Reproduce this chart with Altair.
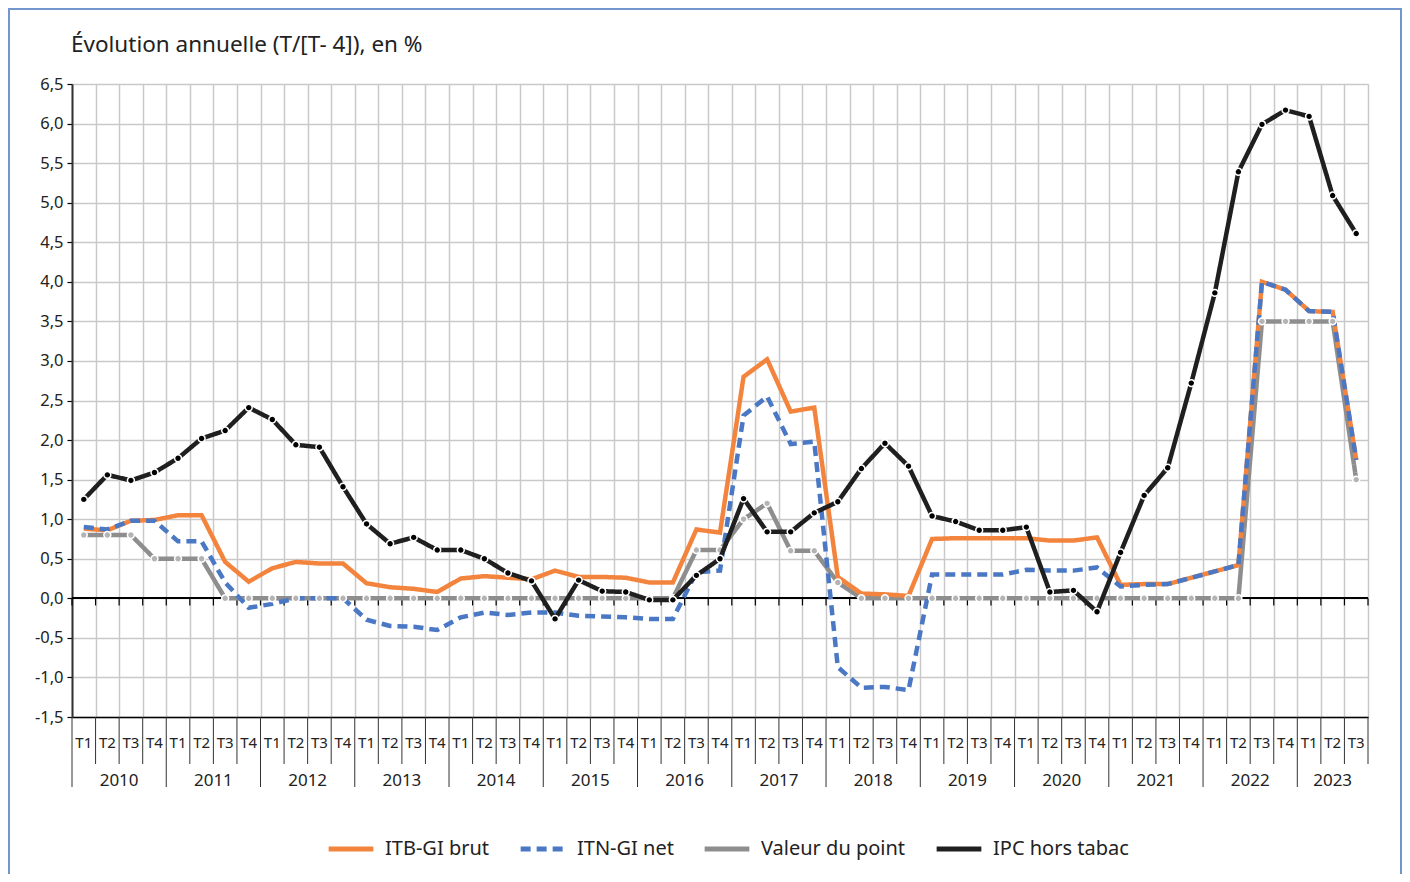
import altair as alt
import pandas as pd

# ---- data ----
quarters = ["T1", "T2", "T3", "T4"] * 13 + ["T1", "T2", "T3"]
years = [str(y) for y in range(2010, 2024)]
series = ["ITB-GI brut", "ITN-GI net", "Valeur du point", "IPC hors tabac"]
title_text = ["Évolution annuelle (T/[T- 4]), en %"]

itb_brut = [0.88, 0.86, 0.98, 0.99, 1.05, 1.05, 0.46, 0.21, 0.38, 0.46, 0.44, 0.44,
            0.19, 0.14, 0.12, 0.08, 0.25, 0.28, 0.26, 0.24, 0.35, 0.27, 0.27, 0.26,
            0.20, 0.20, 0.87, 0.83, 2.80, 3.02, 2.36, 2.41, 0.27, 0.06, 0.05, 0.03,
            0.75, 0.76, 0.76, 0.76, 0.76, 0.73, 0.73, 0.77, 0.17, 0.18, 0.18, 0.26,
            0.34, 0.42, 4.00, 3.90, 3.63, 3.62, 1.75]
itn_net = [0.90, 0.87, 0.98, 0.98, 0.72, 0.72, 0.20, -0.12, -0.07, 0.00, 0.00, 0.00,
           -0.27, -0.35, -0.36, -0.40, -0.24, -0.18, -0.21, -0.18, -0.18, -0.22, -0.23, -0.24,
           -0.26, -0.26, 0.33, 0.35, 2.31, 2.55, 1.95, 1.98, -0.87, -1.13, -1.12, -1.16,
           0.30, 0.30, 0.30, 0.30, 0.36, 0.35, 0.35, 0.39, 0.15, 0.17, 0.18, 0.26,
           0.34, 0.42, 4.00, 3.90, 3.63, 3.62, 1.75]
valeur_point = [0.8, 0.8, 0.8, 0.5, 0.5, 0.5, 0, 0, 0, 0, 0, 0,
                0, 0, 0, 0, 0, 0, 0, 0, 0, 0, 0, 0,
                0, 0, 0.61, 0.61, 1.0, 1.2, 0.6, 0.6, 0.2, 0, 0, 0,
                0, 0, 0, 0, 0, 0, 0, 0, 0, 0, 0, 0,
                0, 0, 3.5, 3.5, 3.5, 3.5, 1.5]
ipc_hors_tabac = [1.25, 1.56, 1.49, 1.59, 1.77, 2.02, 2.12, 2.41, 2.26, 1.94, 1.91, 1.41,
                  0.94, 0.69, 0.77, 0.61, 0.61, 0.50, 0.32, 0.22, -0.26, 0.23, 0.09, 0.08,
                  -0.02, -0.02, 0.29, 0.50, 1.26, 0.84, 0.84, 1.08, 1.22, 1.64, 1.96, 1.67,
                  1.04, 0.97, 0.86, 0.86, 0.90, 0.08, 0.10, -0.17, 0.58, 1.30, 1.65, 2.72,
                  3.86, 5.39, 5.99, 6.17, 6.09, 5.09, 4.61]
y_ticks = [-1.5, -1.0, -0.5, 0.0, 0.5, 1.0, 1.5, 2.0, 2.5, 3.0, 3.5, 4.0, 4.5, 5.0, 5.5, 6.0, 6.5]

colors = ["#F3843E", "#4A78C4", "#8E8E8E", "#1F1F1F"]
FONT = "Noto Sans"
TXT = "#222222"

n = len(quarters)
idx = list(range(n))
values = [itb_brut, itn_net, valeur_point, ipc_hors_tabac]

df = pd.DataFrame({
    "i": [i for _ in series for i in idx],
    "serie": [s for s in series for _ in idx],
    "v": [v for vals in values for v in vals],
})

qdf = pd.DataFrame({"i": idx, "q": quarters})
ydf = pd.DataFrame({
    "i": [sum(k for k in idx if k // 4 == j) / len([k for k in idx if k // 4 == j]) for j in range(len(years))],
    "year": years,
})
bounds = [k - 0.5 for k in range(n + 1)]
bdf = pd.DataFrame({"i": bounds, "isyear": [(k % 4 == 0) and k < n for k in range(n + 1)]})
tdf = pd.DataFrame({"t": title_text})

PLOT_W, PLOT_H = 1296, 633

xenc = alt.X("i:Q",
             scale=alt.Scale(domain=[-0.5, n - 0.5], nice=False, zero=False),
             axis=alt.Axis(values=bounds, grid=True, labels=False, ticks=False,
                           domain=True, domainColor="#000000", domainWidth=1.5,
                           gridColor="#C9C9C9", gridWidth=1.5, title=None))
yaxis = alt.Axis(values=y_ticks,
                 labelExpr="replace(replace(format(datum.value, '.1f'), '.', ','), '\u2212', '-')",
                 labelOverlap=False, labelBound=False,
                 grid=True, gridColor="#C9C9C9", gridWidth=1.5,
                 tickColor="#000000", tickSize=5, tickWidth=1.2,
                 domainColor="#333333", domainWidth=2,
                 labelFontSize=16.5, labelFont=FONT, labelColor=TXT,
                 labelPadding=4, title=None)
yscale = alt.Scale(domain=[-1.5, 6.5], nice=False, zero=False)
yenc = alt.Y("v:Q", scale=yscale, axis=yaxis)

legend = alt.Legend(title=None, orient="none", direction="horizontal",
                    legendX=254, legendY=740,
                    symbolType="stroke", symbolSize=2000, symbolStrokeWidth=5,
                    labelFontSize=20, labelFont=FONT, labelColor=TXT,
                    labelOffset=9, columnPadding=20)
cenc = alt.Color("serie:N", scale=alt.Scale(domain=series, range=colors), legend=legend)
denc = alt.StrokeDash("serie:N",
                      scale=alt.Scale(domain=series, range=[[1, 0], [10, 6], [1, 0], [1, 0]]),
                      legend=legend)

base = alt.Chart(df)


def line(name, width):
    return base.transform_filter(alt.datum.serie == name).mark_line(
        strokeWidth=width, strokeJoin="miter").encode(x=xenc, y=yenc, color=cenc, strokeDash=denc)


zero_rule = alt.Chart(qdf).mark_rule(color="#000000", strokeWidth=1.5).encode(
    y=alt.Y(datum=0, scale=yscale, axis=yaxis))
zero_ticks = alt.Chart(bdf).transform_calculate(v="0", v2="-0.09").mark_rule(
    color="#000000", strokeWidth=1.2).encode(x=xenc, y=yenc, y2="v2:Q")

gray_line = line("Valeur du point", 4.5)
orange_line = line("ITB-GI brut", 4.5)
blue_line = line("ITN-GI net", 4.5)
black_line = line("IPC hors tabac", 4.5)

gray_pts = base.transform_filter(alt.datum.serie == "Valeur du point").mark_circle(
    size=48, color="#B4B4B4", stroke="white", strokeWidth=1.5, opacity=1).encode(x=xenc, y=yenc)
black_pts = base.transform_filter(alt.datum.serie == "IPC hors tabac").mark_circle(
    size=48, color="#000000", stroke="white", strokeWidth=1.5, opacity=1).encode(x=xenc, y=yenc)

q_sep = alt.Chart(bdf).transform_filter("!datum.isyear").mark_rule(
    color="#333333", strokeWidth=1).encode(x=xenc, y=alt.value(PLOT_H), y2=alt.value(PLOT_H + 47))
y_sep = alt.Chart(bdf).transform_filter("datum.isyear").mark_rule(
    color="#333333", strokeWidth=1).encode(x=xenc, y=alt.value(PLOT_H), y2=alt.value(PLOT_H + 70))
q_txt = alt.Chart(qdf).mark_text(fontSize=15, font=FONT, color=TXT, baseline="middle").encode(
    x=xenc, y=alt.value(PLOT_H + 26), text="q:N")
y_txt = alt.Chart(ydf).mark_text(fontSize=17, font=FONT, color=TXT, baseline="middle").encode(
    x=xenc, y=alt.value(PLOT_H + 64), text="year:N")

title_mark = alt.Chart(tdf).mark_text(fontSize=22.5, font=FONT, color=TXT, align="left",
                                      baseline="middle").encode(
    x=alt.value(-1), y=alt.value(-39), text="t:N")

frame = alt.Chart(qdf).mark_rect(fill=None, stroke="#7396CC", strokeWidth=1.5).encode(
    x=alt.value(-63.5), x2=alt.value(PLOT_W + 33), y=alt.value(-75.5), y2=alt.value(PLOT_H + 175))

chart = alt.layer(
    zero_rule, zero_ticks, gray_line, orange_line, blue_line, gray_pts,
    black_line, black_pts, q_sep, y_sep, q_txt, y_txt, title_mark, frame
).properties(
    width=PLOT_W, height=PLOT_H,
    padding={"left": 64, "top": 76, "right": 34, "bottom": 157},
    autosize=alt.AutoSizeParams(type="none"),
).configure_view(stroke=None).configure_axis(labelOverlap=False).configure(background="white")

chart.save("out.html", embed_options={"renderer": "svg", "actions": False})
